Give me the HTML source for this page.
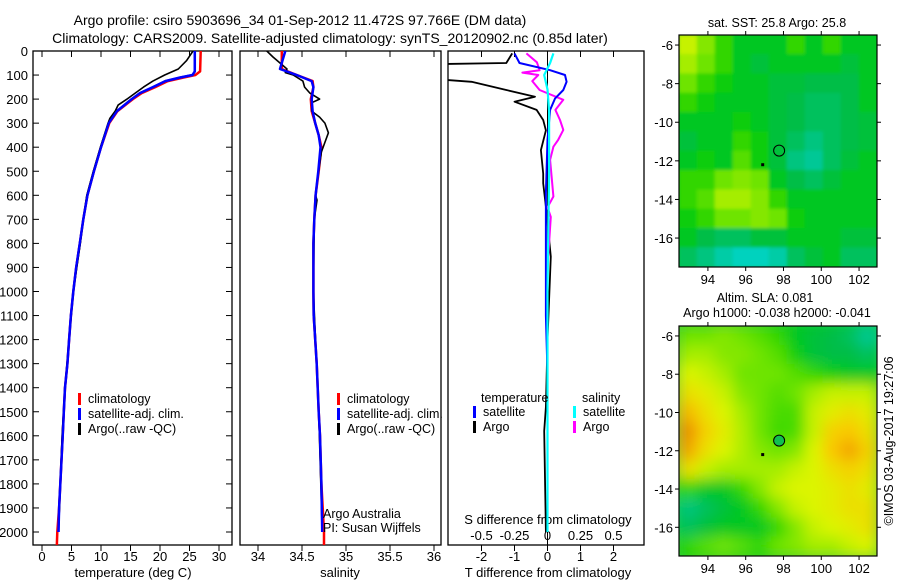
<!DOCTYPE html>
<html><head><meta charset="utf-8">
<style>
body{margin:0;background:#fff;}
svg{display:block;font-family:"Liberation Sans",sans-serif;}
text{fill:#000;}
</style></head>
<body>
<svg id="chart" width="900" height="580" viewBox="0 0 900 580" xmlns="http://www.w3.org/2000/svg">
<defs>
<filter id="blur2" x="-5%" y="-5%" width="110%" height="110%"><feGaussianBlur stdDeviation="7"/></filter>
<filter id="blur1" x="-5%" y="-5%" width="110%" height="110%"><feGaussianBlur stdDeviation="1.5"/></filter>
<clipPath id="clipM1"><rect x="679" y="35" width="198" height="232"/></clipPath>
<clipPath id="clipM2"><rect x="679" y="326" width="198" height="230"/></clipPath>
<clipPath id="clipP1"><rect x="33" y="51" width="199" height="494"/></clipPath>
<clipPath id="clipP2"><rect x="240" y="51" width="201" height="494"/></clipPath>
<clipPath id="clipP3"><rect x="448" y="51" width="196" height="494"/></clipPath>
</defs>
<text x="300" y="25" font-size="14" text-anchor="middle">Argo profile: csiro 5903696_34 01-Sep-2012 11.472S 97.766E (DM data)</text>
<text x="330" y="43" font-size="14" text-anchor="middle">Climatology: CARS2009. Satellite-adjusted climatology: synTS_20120902.nc (0.85d later)</text>
<g id="g"></g>
</svg>
<script>
// ---- profile data ----
const tDepth = [0,85,100,110,125,150,175,200,250,300,400,500,600,700,800,900,1000,1100,1200,1300,1400,1500,1600,1700,1800,1900,2000];
const tClim  = [26.9,26.8,26.0,24.0,21.3,19.2,16.9,15.4,12.8,11.4,10.0,8.8,7.7,7.0,6.4,5.8,5.3,4.9,4.6,4.3,3.9,3.7,3.5,3.3,3.1,2.9,2.6];
const tSat   = [25.9,25.9,25.5,23.4,20.9,18.8,16.6,15.2,12.7,11.3,10.0,8.8,7.7,7.0,6.4,5.8,5.3,4.9,4.6,4.3,3.9,3.7,3.5,3.3,3.1,2.9,2.8];
const tArgoDepth = [0,40,75,100,125,150,175,200,225,250,280,300,400,500,600,700,800,1000,1200,1400,1600,1800,2000];
const tArgo  = [25.6,24.5,23.1,20.8,18.8,17.2,15.8,14.4,12.9,12.4,11.5,11.2,9.9,8.7,7.6,7.0,6.5,5.3,4.6,3.9,3.4,3.1,2.8];
const sDepth = [0,75,100,125,150,200,250,300,350,400,500,600,700,800,900,1000,1100,1200,1300,1400,1500,1600,1800,2000];
const sClim  = [34.27,34.27,34.44,34.62,34.63,34.60,34.61,34.65,34.69,34.72,34.69,34.655,34.64,34.63,34.63,34.63,34.633,34.65,34.667,34.678,34.69,34.705,34.72,34.75];
const sSat   = [34.31,34.25,34.44,34.61,34.63,34.61,34.62,34.65,34.69,34.71,34.685,34.655,34.64,34.63,34.63,34.63,34.633,34.65,34.667,34.678,34.69,34.705,34.72,34.73];
const sArgoDepth = [0,25,50,75,90,100,125,150,175,200,215,250,275,300,340,380,420,500,600,620,700,1000,1500,2000];
const sArgo  = [34.10,34.17,34.25,34.33,34.31,34.40,34.51,34.53,34.59,34.70,34.61,34.61,34.70,34.76,34.80,34.76,34.72,34.69,34.655,34.67,34.64,34.63,34.69,34.73];
// differences
const dTArgoDepth = [10,50,55,62,113,128,162,190,211,245,287,330,412,510,550,647,855,1200,1480,1580,2000];
const dTArgo = [-1.07,-1.25,-3.5,-3.8,-3.8,-2.3,-1.25,-0.38,-1.0,-0.33,-0.13,-0.05,-0.2,-0.13,-0.13,-0.05,0.1,0,-0.05,-0.1,-0.05];
const dTSatDepth = [10,50,80,100,128,162,197,245,370,590,1100,1340,2000];
const dTSat = [-1.0,-0.85,0.08,0.53,0.58,0.48,0.23,0.08,0.0,-0.05,-0.05,0,0];
const dSArgoDepth = [10,47,80,90,100,125,162,203,245,287,328,370,398,453,605,650,690,900,2000];
const dSArgo = [-0.16,-0.08,-0.06,-0.19,-0.07,-0.115,-0.06,0.12,0.06,0.095,0.12,0.08,0.045,0.02,0.045,0,0.025,0,0];
const dSSatDepth = [10,50,100,160,250,500,1000,2000];
const dSSat = [0.045,0.02,-0.025,0,0.012,0.012,0,0];
// ticks
const depthTicks = [0,100,200,300,400,500,600,700,800,900,1000,1100,1200,1300,1400,1500,1600,1700,1800,1900,2000];
const tTicks = [0,5,10,15,20,25,30];
const sTicks = [34,34.5,35,35.5,36];
const sTickLabels = ["34","34.5","35","35.5","36"];
const dTTicks = [-2,-1,0,1,2];
const dSTicks = [-0.5,-0.25,0,0.25,0.5];
const dSTickLabels = ["-0.5","-0.25","0","0.25","0.5"];
const lonTicks = [94,96,98,100,102];
const latTicks = [-6,-8,-10,-12,-14,-16];
// map grids (colour index 0..1), rows lat -6..-17, cols lon 92.5..103
const sstGrid = [
[0.68,0.62,0.55,0.5,0.5,0.5,0.55,0.5,0.55,0.5,0.5],
[0.65,0.6,0.55,0.5,0.48,0.5,0.5,0.5,0.5,0.48,0.5],
[0.6,0.55,0.52,0.5,0.5,0.48,0.48,0.47,0.47,0.47,0.5],
[0.55,0.52,0.5,0.5,0.5,0.48,0.47,0.45,0.45,0.47,0.5],
[0.5,0.5,0.5,0.52,0.5,0.48,0.47,0.45,0.45,0.47,0.48],
[0.48,0.5,0.5,0.55,0.52,0.48,0.45,0.42,0.45,0.47,0.48],
[0.5,0.52,0.5,0.58,0.52,0.48,0.42,0.4,0.45,0.48,0.5],
[0.55,0.55,0.6,0.62,0.6,0.5,0.47,0.45,0.48,0.5,0.5],
[0.55,0.58,0.65,0.65,0.62,0.55,0.5,0.5,0.5,0.5,0.5],
[0.52,0.55,0.6,0.6,0.62,0.6,0.52,0.5,0.5,0.5,0.5],
[0.5,0.47,0.45,0.45,0.48,0.48,0.5,0.5,0.5,0.48,0.48],
[0.45,0.42,0.38,0.35,0.35,0.38,0.45,0.48,0.5,0.45,0.45]];
const slaGrid = [
[0.6,0.6,0.62,0.6,0.58,0.55,0.5,0.48,0.47,0.45,0.4],
[0.65,0.65,0.62,0.62,0.6,0.58,0.52,0.48,0.47,0.47,0.45],
[0.7,0.68,0.65,0.6,0.6,0.6,0.58,0.55,0.52,0.5,0.5],
[0.75,0.72,0.68,0.62,0.6,0.58,0.6,0.65,0.68,0.68,0.68],
[0.82,0.75,0.7,0.65,0.6,0.57,0.57,0.68,0.72,0.75,0.72],
[0.88,0.78,0.72,0.66,0.6,0.56,0.57,0.68,0.78,0.8,0.75],
[0.85,0.75,0.7,0.66,0.62,0.6,0.62,0.7,0.8,0.85,0.78],
[0.75,0.68,0.65,0.65,0.65,0.65,0.68,0.7,0.75,0.78,0.75],
[0.55,0.5,0.5,0.55,0.62,0.68,0.7,0.7,0.72,0.75,0.72],
[0.42,0.45,0.48,0.5,0.55,0.62,0.68,0.7,0.72,0.75,0.75],
[0.45,0.48,0.5,0.5,0.5,0.55,0.62,0.68,0.7,0.72,0.75],
[0.55,0.58,0.6,0.58,0.55,0.6,0.62,0.65,0.65,0.68,0.7]];

const NS='http://www.w3.org/2000/svg';
const G=document.getElementById('g');
function mk(tag,attrs,parent){const e=document.createElementNS(NS,tag);for(const k in attrs)e.setAttribute(k,attrs[k]);(parent||G).appendChild(e);return e;}
function txt(x,y,s,size,anchor,parent){const t=mk('text',{x:x,y:y,'font-size':size,'text-anchor':anchor||'middle'},parent);t.textContent=s;return t;}

// axes
const yTop=51,yBot=545;
const yD = d => yTop + d*0.2405;
const xT = v => 42 + v*5.9;
const xS = v => 258 + (v-34)*88;
const xDT = v => 547.5 + v*33;
const xDS = v => 547.5 + v*4*33;

function frame(x0,x1,name){const r=mk('rect',{x:x0,y:yTop,width:x1-x0,height:yBot-yTop,fill:'none',stroke:'#000','stroke-width':1.3});}
function line(xs,ds,fx,col,w,clip,name){
  const pts=xs.map((v,i)=>fx(v).toFixed(1)+','+yD(ds[i]).toFixed(1)).join(' ');
  const p=mk('polyline',{points:pts,fill:'none',stroke:col,'stroke-width':w,'clip-path':'url(#'+clip+')','stroke-linejoin':'round'});
  
}
// panel 1
frame(33,232,'temperature-panel');
depthTicks.forEach(d=>{const y=yD(d);mk('line',{x1:33,x2:39,y1:y,y2:y,stroke:'#000'});mk('line',{x1:226,x2:232,y1:y,y2:y,stroke:'#000'});
  const t=txt(28,y+5,String(d),13,'end');});
tTicks.forEach(v=>{const x=xT(v);mk('line',{x1:x,x2:x,y1:yTop,y2:yTop+6,stroke:'#000'});mk('line',{x1:x,x2:x,y1:yBot,y2:yBot+6,stroke:'#000'});
  const t=txt(x,561,String(v),13);});
let t1=txt(133,577,'temperature (deg C)',13);
line(tClim.concat([2.5]),tDepth.concat([2060]),xT,'#f00',2.5,'clipP1','temperature-climatology-line');
line(tSat,tDepth,xT,'#00f',2.5,'clipP1','temperature-satellite-line');
line(tArgo,tArgoDepth,xT,'#000',1.6,'clipP1','temperature-argo-line');
line(tSat,tDepth,xT,'#00f',2.2,'clipP1','temperature-satellite-line-top');
// panel 2
frame(240,441,'salinity-panel');
sTicks.forEach((v,i)=>{const x=xS(v);mk('line',{x1:x,x2:x,y1:yTop,y2:yTop+6,stroke:'#000'});mk('line',{x1:x,x2:x,y1:yBot,y2:yBot+6,stroke:'#000'});
  const t=txt(x,561,sTickLabels[i],13);});
let t2=txt(340,577,'salinity',13);
line(sClim.concat([34.75]),sDepth.concat([2060]),xS,'#f00',2.5,'clipP2','salinity-climatology-line');
line(sArgo,sArgoDepth,xS,'#000',1.6,'clipP2','salinity-argo-line');
line(sSat,sDepth,xS,'#00f',2.5,'clipP2','salinity-satellite-line');
// panel 3
frame(448,644,'difference-panel');
dTTicks.forEach(v=>{const x=xDT(v);mk('line',{x1:x,x2:x,y1:yTop,y2:yTop+6,stroke:'#000'});mk('line',{x1:x,x2:x,y1:yBot,y2:yBot+6,stroke:'#000'});
  const t=txt(x,561,String(v),13);});
dSTicks.forEach((v,i)=>{const t=txt(xDS(v),540,dSTickLabels[i],13);});
let t3=txt(548,577,'T difference from climatology',13);
let t4=txt(548,524,'S difference from climatology',13);
line([0,0],[0,2060],xDT,'#000',1,'clipP3','zero-line');
line(dTArgo,dTArgoDepth,xDT,'#000',1.8,'clipP3','t-diff-argo-line');
line(dSArgo,dSArgoDepth,xDS,'#f0f',2,'clipP3','s-diff-argo-line');
line(dTSat,dTSatDepth,xDT,'#00f',2,'clipP3','t-diff-satellite-line');
line(dSSat,dSSatDepth,xDS,'#0ff',2.2,'clipP3','s-diff-satellite-line');

// legends
function legEntry(x,y,col,label,name){const r=mk('rect',{x:x,y:y-10,width:3,height:12,fill:col});
  const t=txt(x+10,y,label,12.5,'start');}
legEntry(78,403,'#f00','climatology','legend-climatology');
legEntry(78,418,'#00f','satellite-adj. clim.','legend-satellite-adj');
legEntry(78,433,'#000','Argo(..raw -QC)','legend-argo');
legEntry(337,403,'#f00','climatology','legend-climatology-sal');
legEntry(337,418,'#00f','satellite-adj. clim.','legend-satellite-adj-sal');
legEntry(337,433,'#000','Argo(..raw -QC)','legend-argo-sal');
let lt=txt(481,402,'temperature',12.5,'start');
let ls=txt(582,402,'salinity',12.5,'start');
legEntry(473,416,'#00f','satellite','legend-t-satellite');
legEntry(473,431,'#000','Argo','legend-t-argo');
legEntry(573,416,'#0ff','satellite','legend-s-satellite');
legEntry(573,431,'#f0f','Argo','legend-s-argo');
let a1=txt(323,518,'Argo Australia',12.5,'start');
let a2=txt(323,532,'PI: Susan Wijffels',12.5,'start');

// colormap
const cmStops=[[0.3,[0,220,230]],[0.4,[0,200,150]],[0.47,[0,190,70]],[0.52,[10,205,10]],[0.6,[110,228,0]],[0.7,[220,245,0]],[0.8,[250,200,0]],[0.9,[235,130,0]]];
function cmap(v){if(v<=cmStops[0][0])return 'rgb('+cmStops[0][1]+')';for(let i=1;i<cmStops.length;i++){if(v<=cmStops[i][0]){const a=cmStops[i-1],b=cmStops[i],f=(v-a[0])/(b[0]-a[0]);return 'rgb('+a[1].map((c,k)=>Math.round(c+(b[1][k]-c)*f)).join(',')+')';}}return 'rgb('+cmStops[cmStops.length-1][1]+')';}

function mapPanel(grid,x0,y0,w,h,clip,blur,name){
  const lonMin=92.47,lonMax=102.95,latTop=-5.48,latBot=-17.5;
  const xL=l=>x0+(l-lonMin)/(lonMax-lonMin)*w, yL=l=>y0+(latTop-l)/(latTop-latBot)*h;
  const outer=mk('g',{'clip-path':'url(#'+clip+')'});
  const g=mk('g',{filter:'url(#'+blur+')'},outer);
  const rows=grid.length,cols=grid[0].length,cw=w/cols,ch=h/rows;
  mk('rect',{x:x0-10,y:y0-10,width:w+20,height:h+20,fill:cmap(0.5)},g);
  grid.forEach((row,r)=>row.forEach((v,c)=>{const cell=mk('rect',{x:x0+c*cw-0.3,y:y0+r*ch-0.3,width:cw+0.6,height:ch+0.6,fill:cmap(v)},g);
    }));
  mk('rect',{x:x0,y:y0,width:w,height:h,fill:'none',stroke:'#000','stroke-width':1.2});
  lonTicks.forEach(l=>{const x=xL(l);mk('line',{x1:x,x2:x,y1:y0,y2:y0-4,stroke:'#000'});mk('line',{x1:x,x2:x,y1:y0+h,y2:y0+h+4,stroke:'#000'});
    const t=txt(x,y0+h+17,String(l),13);});
  latTicks.forEach(l=>{const y=yL(l);mk('line',{x1:x0,x2:x0-4,y1:y,y2:y,stroke:'#000'});mk('line',{x1:x0+w,x2:x0+w+4,y1:y,y2:y,stroke:'#000'});
    const t=txt(x0-6,y+5,String(l),13,'end');});
  return {xL,yL};
}
const m1=mapPanel(sstGrid,679,35,198,232,'clipM1','blur1','sst-map');
const m2=mapPanel(slaGrid,679,326,198,230,'clipM2','blur2','sla-map');
[[m1,'none'],[m2,'#10c050']].forEach(([m,f])=>{
  const c=mk('circle',{cx:m.xL(97.77),cy:m.yL(-11.47),r:5.5,fill:f,stroke:'#000','stroke-width':1});
  mk('rect',{x:m.xL(96.9)-1.5,y:m.yL(-12.2)-1.5,width:3,height:3,fill:'#000'});
});
let mt1=txt(777,27,'sat. SST: 25.8 Argo: 25.8',12.5);
let mt2=txt(765,302,'Altim. SLA: 0.081',12.5);
let mt3=txt(777,317,'Argo h1000: -0.038 h2000: -0.041',12.5);
let cr=txt(0,0,'©IMOS 03-Aug-2017 19:27:06',12.5);cr.setAttribute('transform','translate(893,441) rotate(-90)');
</script>
</body></html>
